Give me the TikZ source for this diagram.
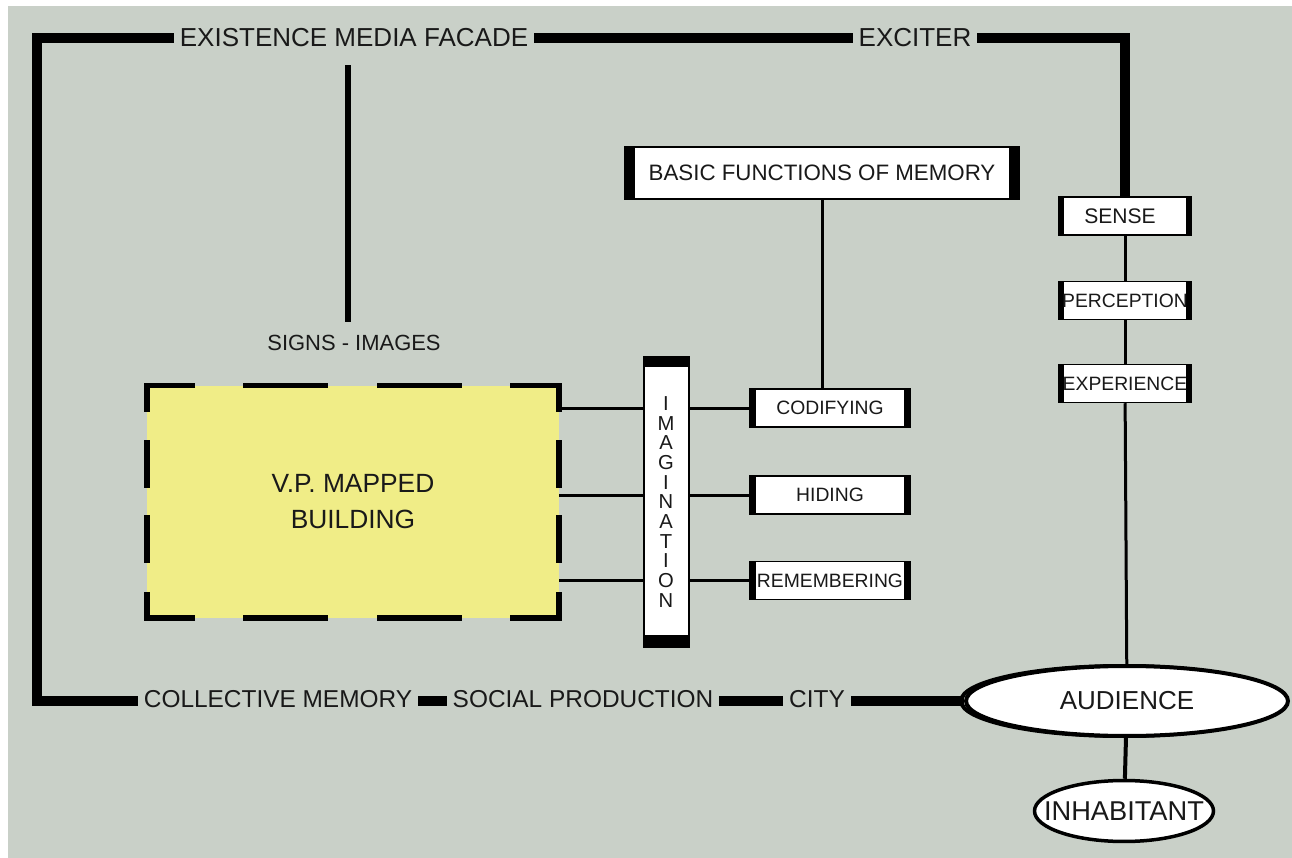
\documentclass[tikz,border=0pt]{standalone}
\usepackage{fontspec}
\setmainfont{Liberation Sans}
\usetikzlibrary{shapes.geometric,calc}
\definecolor{bg}{RGB}{201,208,200}
\definecolor{bldfill}{RGB}{240,237,135}
\definecolor{ink}{RGB}{25,25,25}
\begin{document}
\begin{tikzpicture}[x=0.02cm,y=-0.02cm,
  lbl/.style={fill=bg, text=ink, inner xsep=0.12cm, inner ysep=0.05cm, font=\fontsize{14.8}{17}\selectfont},
  lblb/.style={lbl, font=\fontsize{13.9}{17}\selectfont},
  frameline/.style={line width=0.19cm, line join=miter, line cap=butt},
  conn/.style={line width=0.06cm},
  dsh/.style={line width=0.12cm, line join=miter},
  sidebox/.style={draw=black, fill=white, line width=0.03cm, inner sep=0, text=ink,
    font=\fontsize{11}{13}\selectfont,
    path picture={\fill[black] (path picture bounding box.north west) rectangle ([xshift=#1]path picture bounding box.south west);
      \fill[black] (path picture bounding box.north east) rectangle ([xshift=-#1]path picture bounding box.south east);}},
  sidebox/.default=0.12cm,
  oval/.style={ellipse, draw=black, fill=white, inner sep=0, text=ink}
]
\useasboundingbox (0,0) rectangle (1292,858);
\fill[white] (0,0) rectangle (1292,858);
\fill[bg] (8,6) rectangle (1292,858);

% right column
\node[sidebox=0.1cm, minimum width=2.66cm, minimum height=0.76cm, font=\fontsize{12}{14}\selectfont] (sense) at (1125,216) {\hspace*{-0.2cm}SENSE};
\node[sidebox=0.1cm, minimum width=2.66cm, minimum height=0.76cm] (perc) at (1125,300.5) {PERCEPTION};
\node[sidebox=0.1cm, minimum width=2.66cm, minimum height=0.76cm] (expe) at (1125,383.5) {EXPERIENCE};
\node[oval, line width=0.08cm, minimum width=6.44cm, minimum height=1.40cm,
  font=\fontsize{14.8}{17}\selectfont,
  preaction={draw=black, line width=0.08cm, transform canvas={xshift=-0.1cm}}] (aud) at (1127,701) {\makebox[0pt]{AUDIENCE}};
\node[oval, line width=0.07cm, minimum width=3.58cm, minimum height=1.22cm,
  font=\fontsize{15.5}{17}\selectfont] (inh) at (1124,811) {\makebox[0pt]{INHABITANT}};

% frame
\draw[frameline] (aud.west) -| (37,38) -| (sense.north);

\node[lbl] (facade) at (354,38) {EXISTENCE MEDIA FACADE};
\node[lbl] (exciter) at (915,38) {EXCITER};
\node[lblb] (collective) at (278,699) {COLLECTIVE MEMORY};
\node[lblb] (social) at (583,699) {SOCIAL PRODUCTION};
\node[lblb] (city) at (817,699) {CITY};

\node[text=ink, font=\fontsize{12.5}{15}\selectfont, inner sep=0.05cm] (signs) at (354,343) {SIGNS - IMAGES};
\draw[line width=0.12cm, shorten <=0.3cm, shorten >=0.2cm] ([xshift=-0.12cm]facade.south) -- ([xshift=-0.12cm]signs.north);

% building
\node[fill=bldfill, minimum width=8.24cm, minimum height=4.65cm, inner sep=0, align=center,
  text=ink, font=\fontsize{15}{20.5}\selectfont] (bld) at (353,501.75) {V.P. MAPPED\\BUILDING};
\draw[dsh] (195,385.5) -| (147,412);
\draw[dsh] (510,385.5) -| (559,412);
\draw[dsh] (195,618) -| (147,592);
\draw[dsh] (510,618) -| (559,592);
\draw[dsh] (243,385.5) -- (328,385.5) (377,385.5) -- (462,385.5)
           (243,618) -- (328,618) (377,618) -- (462,618)
           (147,440) -- (147,488) (147,515) -- (147,563)
           (559,440) -- (559,488) (559,515) -- (559,563);

% imagination
\node[draw=black, fill=white, line width=0.04cm, minimum width=0.9cm, minimum height=5.8cm, inner sep=0,
  align=center, text=ink, font=\fontsize{11.5}{11.2}\selectfont,
  path picture={\fill[black] (path picture bounding box.north west) rectangle ([yshift=-0.2cm]path picture bounding box.north east);
    \fill[black] (path picture bounding box.south west) rectangle ([yshift=0.24cm]path picture bounding box.south east);}]
  (imag) at (666,502) {I\\M\\A\\G\\I\\N\\A\\T\\I\\O\\N};

% memory functions
\node[sidebox=0.2cm, minimum width=7.9cm, minimum height=1.04cm, font=\fontsize{12.7}{15}\selectfont] (bfm) at (822,173) {BASIC FUNCTIONS OF MEMORY};
\node[sidebox=0.12cm, minimum width=3.2cm, minimum height=0.76cm] (cod) at (830,408) {CODIFYING};
\node[sidebox=0.12cm, minimum width=3.2cm, minimum height=0.76cm] (hid) at (830,495) {HIDING};
\node[sidebox=0.12cm, minimum width=3.2cm, minimum height=0.76cm] (rem) at (830,580.5) {REMEMBERING};

\draw[conn] (bfm.south) -- (bfm.south |- cod.north);
\foreach \b in {cod,hid,rem}{
  \draw[conn] (bld.east |- \b) -- (imag.west |- \b);
  \draw[conn] (imag.east |- \b) -- (\b.west);
}

\draw[conn] (sense) -- (perc);
\draw[conn] (perc) -- (expe);
\draw[conn] (expe) -- (aud);
\draw[line width=0.08cm] (aud) -- (inh);
\end{tikzpicture}
\end{document}
